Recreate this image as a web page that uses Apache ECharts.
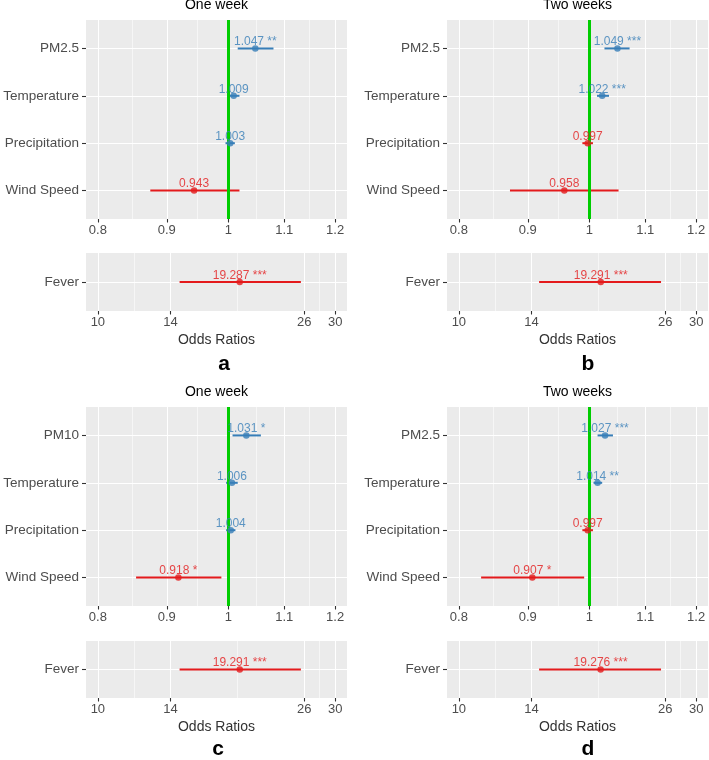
<!DOCTYPE html>
<html><head><meta charset="utf-8">
<script src="https://cdn.jsdelivr.net/npm/echarts@6/dist/echarts.min.js"></script>
<style>html,body{margin:0;padding:0;background:#fff}#c{width:709px;height:760px}</style>
</head><body><div id="c"></div>
<script>
// ---------- data ----------
const panelTitles = ['One week', 'Two weeks', 'One week', 'Two weeks'];
const panelLetters = ['a', 'b', 'c', 'd'];
const topTicks = [0.8, 0.9, 1, 1.1, 1.2];
const feverTicks = [10, 14, 26, 30];

const catsA = ['PM2.5', 'Temperature', 'Precipitation', 'Wind Speed'];
const orA   = [1.047, 1.009, 1.003, 0.943];
const lowA  = [1.016, 0.999, 0.995, 0.875];
const highA = [1.080, 1.019, 1.011, 1.019];
const sigA  = ['**', '', '', ''];

const catsB = ['PM2.5', 'Temperature', 'Precipitation', 'Wind Speed'];
const orB   = [1.049, 1.022, 0.997, 0.958];
const lowB  = [1.026, 1.013, 0.988, 0.873];
const highB = [1.071, 1.034, 1.006, 1.051];
const sigB  = ['***', '***', '', ''];

const catsC = ['PM10', 'Temperature', 'Precipitation', 'Wind Speed'];
const orC   = [1.031, 1.006, 1.004, 0.918];
const lowC  = [1.007, 0.996, 0.996, 0.854];
const highC = [1.057, 1.016, 1.012, 0.988];
const sigC  = ['*', '', '', '*'];

const catsD = ['PM2.5', 'Temperature', 'Precipitation', 'Wind Speed'];
const orD   = [1.027, 1.014, 0.997, 0.907];
const lowD  = [1.014, 1.007, 0.988, 0.831];
const highD = [1.041, 1.022, 1.006, 0.991];
const sigD  = ['***', '**', '', '*'];

const feverCat  = ['Fever'];
const feverOR   = [19.287, 19.291, 19.291, 19.276];
const feverLow  = [14.6, 14.5, 14.6, 14.5];
const feverHigh = [25.6, 25.5, 25.6, 25.5];
const feverSig  = ['***', '***', '***', '***'];

const xTitle = 'Odds Ratios';

// ---------- build ----------
const FONT = '"Liberation Sans", Arial, Helvetica, sans-serif';
const RED = '#E41A1C', BLUE = '#377EB8', GREEN = '#00CD00';
const grids = [], xAxes = [], yAxes = [], series = [], graphics = [];

function fmtTick(ticks) {
  return function (v) {
    for (const t of ticks) if (Math.abs(Math.log(t) - v) < 1e-6) return String(t);
    return '';
  };
}

function addPlot(left, top, width, height, cats, ors, lows, highs, sigs, ticks, isFever) {
  const g = grids.length;
  grids.push({left: left, top: top, width: width, height: height, show: true,
    backgroundColor: '#EBEBEB', borderWidth: 0});
  const lt = ticks.map(Math.log);
  const span = lt[lt.length - 1] - lt[0];
  const mn = lt[0] - 0.05 * span, mx = lt[lt.length - 1] + 0.05 * span;
  const minor = [];
  for (let i = 0; i < lt.length - 1; i++) minor.push((lt[i] + lt[i + 1]) / 2);
  xAxes.push({type: 'value', gridIndex: g, min: mn, max: mx, position: 'bottom',
    axisLine: {show: false, onZero: false},
    axisTick: {show: true, customValues: lt, length: 3.5, lineStyle: {color: '#333', width: 1.1}},
    axisLabel: {customValues: lt, formatter: fmtTick(ticks), color: '#4D4D4D', fontSize: 13,
      margin: 5, fontFamily: FONT},
    splitLine: {show: true, lineStyle: {color: '#fff', width: 1.1}}});
  xAxes.push({type: 'value', gridIndex: g, min: mn, max: mx, position: 'top',
    axisLine: {show: false, onZero: false}, axisTick: {show: false, customValues: minor},
    axisLabel: {show: false}, splitLine: {show: true, lineStyle: {color: '#fff', width: 0.55}}});
  const n = cats.length;
  const yv = cats.map((c, i) => n - i);
  yAxes.push({type: 'value', gridIndex: g, min: 0.4, max: n + 0.6, position: 'left',
    axisLine: {show: false, onZero: false},
    axisTick: {show: true, customValues: yv, length: 4, lineStyle: {color: '#333', width: 1.1}},
    axisLabel: {customValues: yv, formatter: v => cats[n - Math.round(v)], color: '#4D4D4D',
      fontSize: 13.5, margin: 7, fontFamily: FONT},
    splitLine: {show: true, lineStyle: {color: '#fff', width: 1.1}}});
  const col = i => isFever ? RED : (ors[i] < 1 ? RED : BLUE);
  series.push({type: 'custom', xAxisIndex: 2 * g, yAxisIndex: g, z: 2, silent: true,
    encode: {x: [0, 1], y: 2},
    renderItem: function (params, api) {
      const p1 = api.coord([api.value(0), api.value(2)]);
      const p2 = api.coord([api.value(1), api.value(2)]);
      return {type: 'line', shape: {x1: p1[0], y1: p1[1], x2: p2[0], y2: p2[1]},
        style: {stroke: api.visual('color'), lineWidth: 2}};
    },
    data: cats.map((c, i) => ({value: [Math.log(lows[i]), Math.log(highs[i]), n - i],
      itemStyle: {color: col(i)}}))});
  if (!isFever) {
    series.push({type: 'line', xAxisIndex: 2 * g, yAxisIndex: g, z: 3, data: [],
      markLine: {silent: true, symbol: ['none', 'none'], label: {show: false},
        lineStyle: {color: GREEN, width: 3, type: 'solid'}, data: [{xAxis: 0}]}});
  }
  series.push({type: 'scatter', xAxisIndex: 2 * g, yAxisIndex: g, z: 5, symbolSize: 6.5,
    silent: true,
    data: cats.map((c, i) => ({value: [Math.log(ors[i]), n - i],
      itemStyle: {color: col(i)}, label: {color: col(i)}})),
    label: {show: true, position: 'inside', offset: [0, -6.5], fontSize: 12, fontFamily: FONT,
      textBorderWidth: 0, textShadowBlur: 0,
      formatter: p => ors[p.dataIndex].toFixed(3) + (sigs[p.dataIndex] ? ' ' + sigs[p.dataIndex] : '')}});
}

const colLeft = [86, 447];
const plotW = 261;
const rowTop = [20, 407];
const topH = 199;
const rowFever = [253, 641];
const feverH = [58, 57];
const titleY = [5, 392];
const oddsY = [340, 727];
const letterY = [364, 749];
const letterX = [224, 588, 218, 588];

const panels = [
  [catsA, orA, lowA, highA, sigA],
  [catsB, orB, lowB, highB, sigB],
  [catsC, orC, lowC, highC, sigC],
  [catsD, orD, lowD, highD, sigD]
];

panels.forEach((p, k) => {
  const r = Math.floor(k / 2), c = k % 2;
  const left = colLeft[c];
  addPlot(left, rowTop[r], plotW, topH, p[0], p[1], p[2], p[3], p[4], topTicks, false);
  addPlot(left, rowFever[r], plotW, feverH[r], feverCat, [feverOR[k]], [feverLow[k]],
    [feverHigh[k]], [feverSig[k]], feverTicks, true);
  const cx = left + plotW / 2;
  graphics.push({type: 'text', x: cx, y: titleY[r], style: {text: panelTitles[k],
    fill: '#000', font: '14px ' + FONT, textAlign: 'center', textVerticalAlign: 'middle'}});
  graphics.push({type: 'text', x: cx, y: oddsY[r], style: {text: xTitle,
    fill: '#333', font: '14px ' + FONT, textAlign: 'center', textVerticalAlign: 'middle'}});
  graphics.push({type: 'text', x: letterX[k], y: letterY[r], style: {text: panelLetters[k],
    fill: '#000', font: 'bold 21px ' + FONT, textAlign: 'center', textVerticalAlign: 'middle'}});
});

const chart = echarts.init(document.getElementById('c'), null, {renderer: 'canvas'});
chart.setOption({
  animation: false,
  textStyle: {fontFamily: FONT},
  grid: grids, xAxis: xAxes, yAxis: yAxes, series: series, graphic: graphics
});
</script>
</body></html>
